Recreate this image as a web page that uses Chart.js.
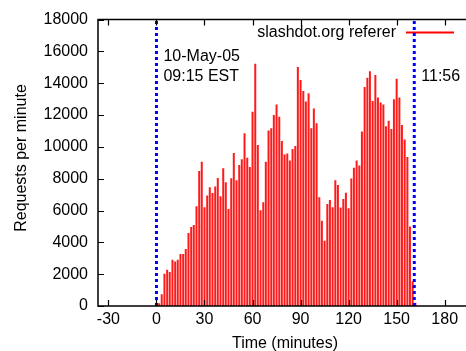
<!DOCTYPE html>
<html>
<head>
<meta charset="utf-8">
<script src="https://cdn.jsdelivr.net/npm/chart.js@4/dist/chart.umd.min.js"></script>
<style>
  html, body { margin: 0; padding: 0; background: #fff; }
  #wrap { width: 466px; height: 351px; position: relative; }
</style>
</head>
<body>
<div id="wrap"><canvas id="c" width="466" height="351"></canvas></div>
<script>
// minutes since 09:15 (100 s bins)
const minutes = [
  1.7, 3.3, 5.0, 6.7, 8.3, 10.0, 11.7, 13.3, 15.0, 16.7,
  18.3, 20.0, 21.7, 23.3, 25.0, 26.7, 28.3, 30.0, 31.7, 33.3,
  35.0, 36.7, 38.3, 40.0, 41.7, 43.3, 45.0, 46.7, 48.3, 50.0,
  51.7, 53.3, 55.0, 56.7, 58.3, 60.0, 61.7, 63.3, 65.0, 66.7,
  68.3, 70.0, 71.7, 73.3, 75.0, 76.7, 78.3, 80.0, 81.7, 83.3,
  85.0, 86.7, 88.3, 90.0, 91.7, 93.3, 95.0, 96.7, 98.3, 100.0,
  101.7, 103.3, 105.0, 106.7, 108.3, 110.0, 111.7, 113.3, 115.0, 116.7,
  118.3, 120.0, 121.7, 123.3, 125.0, 126.7, 128.3, 130.0, 131.7, 133.3,
  135.0, 136.7, 138.3, 140.0, 141.7, 143.3, 145.0, 146.7, 148.3, 150.0,
  151.7, 153.3, 155.0, 156.7, 158.3, 160.0, 161.7
];
const requests = [
  170, 745, 2030, 2280, 2130, 2900, 2790, 2900, 3270, 3270,
  3580, 4590, 4970, 5090, 6270, 8480, 9060, 6210, 6950, 7470,
  7100, 7510, 8050, 6890, 8650, 7780, 6100, 8030, 9620, 7900,
  8860, 9230, 10860, 9310, 8730, 12210, 15230, 10120, 6020, 6520,
  9060, 11030, 11170, 12000, 12660, 11900, 10370, 9520, 9580, 9140,
  9860, 10060, 15020, 14210, 13510, 12850, 13370, 11170, 12410, 11480,
  6830, 5360, 4100, 6410, 6660, 6210, 7900, 7610, 6190, 6720,
  7120, 6150, 8010, 8690, 9150, 8830, 10970, 13760, 14340, 14750,
  12890, 14520, 13100, 12790, 12660, 11300, 11650, 11130, 12990, 14280,
  13100, 11380, 10470, 9370, 4990, 1550, 210
];
const xTicks = [-30, 0, 30, 60, 90, 120, 150, 180];
const yTicks = [0, 2000, 4000, 6000, 8000, 10000, 12000, 14000, 16000, 18000];
const markerTimes = [0, 161];
const markerLabels = [['10-May-05', '09:15 EST'], ['11:56']];
const seriesName = 'slashdot.org referer';

const FONT = '"Liberation Sans", Arial, sans-serif';

const frame = {
  id: 'frame',
  beforeDatasetsDraw(chart) {
    const ctx = chart.ctx;
    const x = chart.scales.x;
    ctx.save();
    ctx.fillStyle = '#000';
    ctx.font = '16px ' + FONT;
    ctx.textAlign = 'left';
    ctx.textBaseline = 'middle';
    ctx.fillText(markerLabels[0][0], x.getPixelForValue(markerTimes[0]) + 7, 57);
    ctx.fillText(markerLabels[0][1], x.getPixelForValue(markerTimes[0]) + 7, 77);
    ctx.fillText(markerLabels[1][0], x.getPixelForValue(markerTimes[1]) + 7, 77);

    // legend
    ctx.textAlign = 'right';
    ctx.fillText(seriesName, 396, 33);
    ctx.strokeStyle = '#ff0000';
    ctx.lineWidth = 2;
    ctx.beginPath();
    ctx.moveTo(406, 32.5); ctx.lineTo(454, 32.5);
    ctx.stroke();
    ctx.restore();
  },
  afterDatasetsDraw(chart) {
    const ctx = chart.ctx;
    const a = chart.chartArea;
    const x = chart.scales.x, y = chart.scales.y;
    ctx.save();
    // box
    ctx.strokeStyle = '#000';
    ctx.lineWidth = 1.5;
    ctx.beginPath();
    ctx.moveTo(a.right + 2, a.top); ctx.lineTo(a.left, a.top);
    ctx.lineTo(a.left, a.bottom); ctx.lineTo(a.right + 2, a.bottom);
    ctx.stroke();
    // inward ticks
    ctx.lineWidth = 1.2;
    ctx.beginPath();
    xTicks.forEach(v => {
      const px = Math.round(x.getPixelForValue(v)) + 0.5;
      ctx.moveTo(px, a.bottom); ctx.lineTo(px, a.bottom - 6);
      ctx.moveTo(px, a.top); ctx.lineTo(px, a.top + 6);
    });
    yTicks.forEach(v => {
      const py = Math.round(y.getPixelForValue(v)) + 0.5;
      ctx.moveTo(a.left, py); ctx.lineTo(a.left + 6, py);
    });
    ctx.stroke();

    // axis titles
    ctx.fillStyle = '#000';
    ctx.font = '16px ' + FONT;
    ctx.textBaseline = 'middle';
    ctx.textAlign = 'center';
    ctx.fillText('Time (minutes)', 285, 344);
    ctx.translate(22, 158);
    ctx.rotate(-Math.PI / 2);
    ctx.fillText('Requests per minute', 0, 0);
    ctx.restore();
  }
};

const markerSets = markerTimes.map(t => ({
  type: 'line',
  data: [{ x: t, y: 0 }, { x: t, y: 18000 }],
  borderColor: '#0000ff',
  borderWidth: 3,
  borderDash: [3, 3],
  pointRadius: 0,
  order: 0
}));

new Chart(document.getElementById('c'), {
  type: 'bar',
  data: {
    datasets: [{
      label: seriesName,
      data: minutes.map((m, i) => ({ x: m, y: requests[i] })),
      backgroundColor: '#ff1a1a',
      borderWidth: 0,
      barPercentage: 0.78,
      categoryPercentage: 1,
      order: 1
    }].concat(markerSets)
  },
  options: {
    responsive: false,
    animation: false,
    events: [],
    layout: { padding: { top: 16, right: 0, left: 0, bottom: 0 } },
    plugins: { legend: { display: false }, tooltip: { enabled: false } },
    scales: {
      x: {
        type: 'linear',
        min: -36.5,
        max: 193.3,
        offset: false,
        afterBuildTicks: s => { s.ticks = xTicks.map(v => ({ value: v })); },
        afterFit: s => { s.height = 45; },
        grid: { display: false, drawTicks: false },
        border: { display: false },
        ticks: { color: '#000', font: { size: 16, family: FONT }, padding: 4, maxRotation: 0, autoSkip: false }
      },
      y: {
        min: 0,
        max: 18000,
        afterBuildTicks: s => { s.ticks = yTicks.map(v => ({ value: v })); },
        afterFit: s => { s.width = 98; },
        grid: { display: false, drawTicks: false },
        border: { display: false },
        ticks: { color: '#000', font: { size: 16, family: FONT }, padding: 10, callback: v => String(v) }
      }
    }
  },
  plugins: [frame]
});
</script>
</body>
</html>
